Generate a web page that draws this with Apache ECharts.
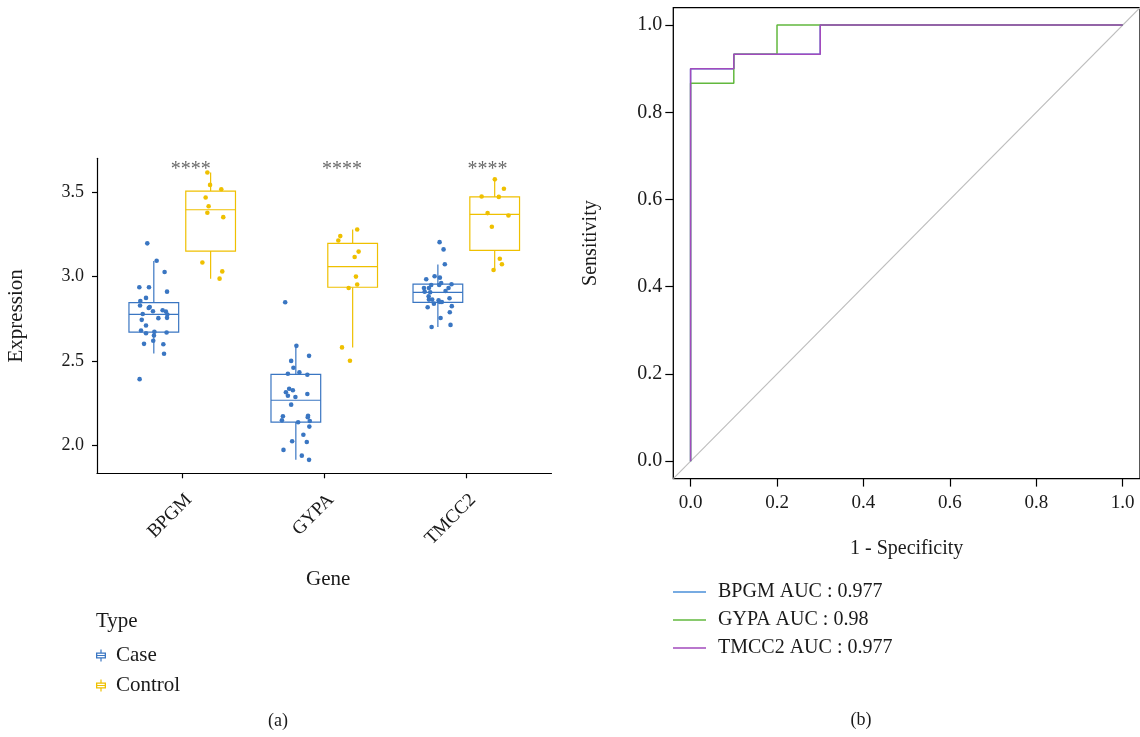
<!DOCTYPE html>
<html>
<head>
<meta charset="utf-8">
<script src="https://cdn.jsdelivr.net/npm/echarts@6/dist/echarts.min.js"></script>
<style>
  html, body { margin: 0; padding: 0; background: #ffffff; }
  #chart { width: 1140px; height: 737px; }
</style>
</head>
<body>
<div id="chart"></div>
<script>
// ---------- (a) expression by gene and type ----------
const genes = ['BPGM', 'GYPA', 'TMCC2'];
const types = ['Case', 'Control'];

// Box statistics per gene: [lower whisker, Q1, median, Q3, upper whisker]
const caseStats = [
  [2.545, 2.671, 2.777, 2.846, 3.092],
  [1.915, 2.139, 2.268, 2.421, 2.590],
  [2.702, 2.848, 2.907, 2.955, 3.071]
];
const controlStats = [
  [2.988, 3.151, 3.396, 3.506, 3.616],
  [2.581, 2.937, 3.059, 3.197, 3.279],
  [3.037, 3.155, 3.368, 3.472, 3.576]
];

// Individual samples: [horizontal jitter within the box, expression]
const bpgmCase = [
  [-0.046, 3.197], [0.020, 3.094], [0.076, 3.027], [-0.102, 2.937], [-0.034, 2.937],
  [0.093, 2.911], [-0.055, 2.874], [-0.095, 2.856], [-0.097, 2.829], [-0.036, 2.814],
  [-0.029, 2.820], [-0.006, 2.795], [0.062, 2.801], [0.085, 2.793], [-0.078, 2.779],
  [0.095, 2.775], [0.032, 2.754], [0.093, 2.756], [-0.085, 2.744], [-0.055, 2.711],
  [-0.090, 2.681], [-0.055, 2.665], [0.004, 2.673], [0.090, 2.669], [0.001, 2.651],
  [-0.004, 2.620], [-0.069, 2.602], [0.067, 2.600], [0.072, 2.543], [-0.100, 2.393]
];
const bpgmControl = [
  [-0.023, 3.616], [-0.004, 3.543], [0.075, 3.517], [-0.035, 3.468], [-0.014, 3.417],
  [-0.023, 3.378], [0.089, 3.352], [-0.058, 3.084], [0.082, 3.031], [0.063, 2.988]
];
const gypaCase = [
  [-0.075, 2.848], [0.004, 2.590], [0.093, 2.531], [-0.033, 2.501], [-0.017, 2.460],
  [0.025, 2.433], [-0.056, 2.425], [0.081, 2.419], [-0.047, 2.336], [-0.021, 2.327],
  [-0.070, 2.315], [0.081, 2.305], [-0.056, 2.295], [-0.003, 2.287], [-0.033, 2.242],
  [-0.091, 2.173], [0.086, 2.176], [0.084, 2.168], [-0.098, 2.149], [0.098, 2.145],
  [0.016, 2.138], [0.095, 2.112], [0.053, 2.064], [-0.026, 2.025], [0.077, 2.021],
  [-0.087, 1.974], [0.042, 1.940], [0.093, 1.915]
];
const gypaControl = [
  [0.032, 3.279], [-0.087, 3.240], [-0.101, 3.214], [0.042, 3.148], [0.014, 3.116],
  [0.023, 3.000], [0.032, 2.953], [-0.028, 2.933], [-0.075, 2.581], [-0.019, 2.502]
];
const tmcc2Case = [
  [0.012, 3.204], [0.040, 3.161], [0.049, 3.073], [-0.082, 2.984], [-0.023, 3.002],
  [0.014, 2.994], [-0.047, 2.950], [0.009, 2.950], [0.023, 2.962], [0.096, 2.955],
  [-0.098, 2.933], [-0.063, 2.933], [0.075, 2.933], [0.054, 2.915], [-0.093, 2.911],
  [-0.054, 2.907], [-0.065, 2.884], [0.082, 2.872], [-0.063, 2.864], [-0.040, 2.864],
  [0.005, 2.860], [0.014, 2.850], [0.028, 2.850], [-0.028, 2.840], [0.098, 2.825],
  [-0.072, 2.819], [0.084, 2.789], [0.019, 2.755], [0.089, 2.714], [-0.044, 2.702]
];
const tmcc2Control = [
  [0.001, 3.576], [0.065, 3.520], [-0.092, 3.474], [0.029, 3.472], [-0.050, 3.376],
  [0.097, 3.362], [-0.020, 3.295], [0.036, 3.106], [0.051, 3.073], [-0.008, 3.039]
];

// Significance marks above each gene (offset from the gene's position)
const signifLabels = ['****', '****', '****'];
const signifOffset = [0.06, 0.125, 0.15];
const signifY = 3.655;

const exprTicks = [2.0, 2.5, 3.0, 3.5];
const exprRange = [1.8355, 3.7005];

// ---------- (b) ROC curves ----------
const rocTicks = [0, 0.2, 0.4, 0.6, 0.8, 1.0];
const rocRange = [-0.04, 1.04];
const aucValues = ['0.977', '0.98', '0.977'];
const bpgmFpr  = [0, 0, 0.1, 0.1, 0.3, 0.3, 1];
const bpgmTpr  = [0, 0.9, 0.9, 0.9333, 0.9333, 1, 1];
const gypaFpr  = [0, 0, 0.1, 0.1, 0.2, 0.2, 1];
const gypaTpr  = [0, 0.8667, 0.8667, 0.9333, 0.9333, 1, 1];
const tmcc2Fpr = [0, 0, 0.1, 0.1, 0.3, 0.3, 1];
const tmcc2Tpr = [0, 0.9, 0.9, 0.9333, 0.9333, 1, 1];

// ---------- styling ----------
const FONT = 'Liberation Serif';
const TXT = '#1a1a1a';
const caseColor = '#3a76c2';
const controlColor = '#efc000';
const rocColors = ['#4a8fd8', '#62b83e', '#a24abd'];
const dodge = [-0.2, 0.2];
const boxHalf = 0.175;

const casePoints = [bpgmCase, gypaCase, tmcc2Case];
const controlPoints = [bpgmControl, gypaControl, tmcc2Control];

function boxData(stats, t) {
  return stats.map((s, i) => [i + dodge[t]].concat(s));
}
function pointData(groups, t) {
  const out = [];
  groups.forEach((g, i) => g.forEach(p => out.push([i + dodge[t] + p[0], p[1]])));
  return out;
}
function zip(xs, ys) { return xs.map((x, i) => [x, ys[i]]); }

function renderBox(params, api) {
  const x = api.value(0);
  const lo = api.value(1), q1 = api.value(2), med = api.value(3), q3 = api.value(4), hi = api.value(5);
  const tl = api.coord([x - boxHalf, q3]);
  const br = api.coord([x + boxHalf, q1]);
  const m = api.coord([x, med]);
  const pHi = api.coord([x, hi]);
  const pLo = api.coord([x, lo]);
  const color = api.visual('color');
  const st = { stroke: color, lineWidth: 1.2, fill: null };
  return {
    type: 'group',
    children: [
      { type: 'line', shape: { x1: pHi[0], y1: pHi[1], x2: pHi[0], y2: tl[1] }, style: st },
      { type: 'line', shape: { x1: pLo[0], y1: br[1], x2: pLo[0], y2: pLo[1] }, style: st },
      { type: 'rect', shape: { x: tl[0], y: tl[1], width: br[0] - tl[0], height: br[1] - tl[1] },
        style: { stroke: color, lineWidth: 1.2, fill: '#ffffff' } },
      { type: 'line', shape: { x1: tl[0], y1: m[1], x2: br[0], y2: m[1] }, style: st }
    ]
  };
}

// small boxplot glyph used as legend key
const boxGlyph = 'path://M4.4,0 L5.6,0 L5.6,3 L10,3 L10,9 L5.6,9 L5.6,12 L4.4,12 L4.4,9 L0,9 L0,3 L4.4,3 Z ' +
  'M1.3,4.3 L1.3,5.4 L8.7,5.4 L8.7,4.3 Z M1.3,6.6 L1.3,7.7 L8.7,7.7 L8.7,6.6 Z';

const rocNames = genes.map((g, i) => g + ' AUC : ' + aucValues[i]);
const rocData = [zip(bpgmFpr, bpgmTpr), zip(gypaFpr, gypaTpr), zip(tmcc2Fpr, tmcc2Tpr)];

const axisText = { fontFamily: FONT, color: TXT };

const option = {
  animation: false,
  backgroundColor: '#ffffff',
  textStyle: { fontFamily: FONT, color: TXT },
  grid: [
    { left: 97, top: 158.3, width: 454.5, height: 315, containLabel: false },
    { left: 673.3, top: 7.6, width: 471, height: 471, containLabel: false,
      show: true, borderColor: '#000000', borderWidth: 1.3, backgroundColor: 'transparent' }
  ],
  xAxis: [
    {
      gridIndex: 0, type: 'value', min: -0.6, max: 2.6,
      name: 'Gene', nameLocation: 'middle', nameGap: 96,
      nameTextStyle: { ...axisText, fontSize: 21, padding: [0, 0, 0, 8] },
      axisLine: { show: true, onZero: false, lineStyle: { color: '#000', width: 1.2 } },
      axisTick: { show: true, customValues: [0, 1, 2], length: 5, lineStyle: { color: '#000', width: 1.2 } },
      axisLabel: { customValues: [0, 1, 2], rotate: 45, margin: 17, fontSize: 19, ...axisText,
        verticalAlign: 'top', formatter: v => genes[Math.round(v)] },
      splitLine: { show: false }
    },
    {
      gridIndex: 1, type: 'value', min: rocRange[0], max: rocRange[1],
      name: '1 - Specificity', nameLocation: 'middle', nameGap: 60,
      nameTextStyle: { ...axisText, fontSize: 20 },
      axisLine: { show: false, onZero: false },
      axisTick: { show: true, customValues: rocTicks, length: 8, lineStyle: { color: '#000', width: 1.2 } },
      axisLabel: { customValues: rocTicks, margin: 15, fontSize: 19, ...axisText,
        formatter: v => v.toFixed(1) },
      splitLine: { show: false }
    }
  ],
  yAxis: [
    {
      gridIndex: 0, type: 'value', min: exprRange[0], max: exprRange[1],
      name: 'Expression', nameLocation: 'middle', nameGap: 70,
      nameTextStyle: { ...axisText, fontSize: 21 },
      axisLine: { show: true, onZero: false, lineStyle: { color: '#000', width: 1.2 } },
      axisTick: { show: true, customValues: exprTicks, length: 5, lineStyle: { color: '#000', width: 1.2 } },
      axisLabel: { customValues: exprTicks, margin: 13, fontSize: 18, ...axisText,
        formatter: v => v.toFixed(1) },
      splitLine: { show: false }
    },
    {
      gridIndex: 1, type: 'value', min: rocRange[0], max: rocRange[1],
      name: 'Sensitivity', nameLocation: 'middle', nameGap: 73,
      nameTextStyle: { ...axisText, fontSize: 20 },
      axisLine: { show: false, onZero: false },
      axisTick: { show: true, customValues: rocTicks, length: 8, lineStyle: { color: '#000', width: 1.2 } },
      axisLabel: { customValues: rocTicks, margin: 11, fontSize: 20, ...axisText,
        formatter: v => v.toFixed(1) },
      splitLine: { show: false }
    }
  ],
  legend: [
    {
      data: types, orient: 'vertical', left: 96, top: 645, padding: 0,
      icon: boxGlyph, itemWidth: 10, itemHeight: 12, itemGap: 9, selectedMode: false,
      textStyle: { fontFamily: FONT, fontSize: 21, color: TXT, lineHeight: 21, padding: [0, 0, 0, 5] }
    },
    {
      data: rocNames, orient: 'vertical', left: 673, top: 582, padding: 0,
      icon: 'rect', itemWidth: 33, itemHeight: 1.4, itemGap: 8, selectedMode: false,
      textStyle: { fontFamily: FONT, fontSize: 20, color: TXT, lineHeight: 20, padding: [0, 0, 0, 7] }
    }
  ],
  graphic: [
    { type: 'text', left: 96, top: 611, style: { text: 'Type', font: '21px "' + FONT + '"', fill: TXT } },
    { type: 'text', x: 278, y: 721, style: { text: '(a)', font: '18px "' + FONT + '"', fill: TXT,
      textAlign: 'center', textVerticalAlign: 'middle' } },
    { type: 'text', x: 861, y: 720, style: { text: '(b)', font: '18px "' + FONT + '"', fill: TXT,
      textAlign: 'center', textVerticalAlign: 'middle' } }
  ],
  series: [
    {
      name: 'Case', type: 'custom', xAxisIndex: 0, yAxisIndex: 0,
      itemStyle: { color: caseColor }, renderItem: renderBox,
      encode: { x: 0, y: [1, 2, 3, 4, 5] }, data: boxData(caseStats, 0), z: 2
    },
    {
      name: 'Control', type: 'custom', xAxisIndex: 0, yAxisIndex: 0,
      itemStyle: { color: controlColor }, renderItem: renderBox,
      encode: { x: 0, y: [1, 2, 3, 4, 5] }, data: boxData(controlStats, 1), z: 2
    },
    {
      name: 'Case', type: 'scatter', xAxisIndex: 0, yAxisIndex: 0,
      symbolSize: 4.6, itemStyle: { color: caseColor, opacity: 1 },
      data: pointData(casePoints, 0), z: 3
    },
    {
      name: 'Control', type: 'scatter', xAxisIndex: 0, yAxisIndex: 0,
      symbolSize: 4.6, itemStyle: { color: controlColor, opacity: 1 },
      data: pointData(controlPoints, 1), z: 3
    },
    {
      name: 'signif', type: 'scatter', xAxisIndex: 0, yAxisIndex: 0,
      symbolSize: 0, silent: true,
      data: signifLabels.map((s, i) => ({ value: [i + signifOffset[i], signifY], name: s })),
      label: { show: true, position: 'inside', formatter: p => p.name,
        fontFamily: FONT, fontSize: 20, color: '#444444', offset: [0, 4] }
    },
    {
      name: 'chance', type: 'line', xAxisIndex: 1, yAxisIndex: 1,
      data: [[rocRange[0], rocRange[0]], [rocRange[1], rocRange[1]]],
      showSymbol: false, symbol: 'none', silent: true,
      lineStyle: { color: '#bdbdbd', width: 1.1 }, z: 1
    }
  ].concat(rocNames.map((n, i) => ({
    name: n, type: 'line', xAxisIndex: 1, yAxisIndex: 1,
    data: rocData[i], symbol: 'none', showSymbol: false,
    color: rocColors[i],
    lineStyle: { color: rocColors[i], width: 1.5 }, z: 3 + i
  })))
};

const chart = echarts.init(document.getElementById('chart'), null, { renderer: 'canvas' });
chart.setOption(option);
</script>
</body>
</html>
